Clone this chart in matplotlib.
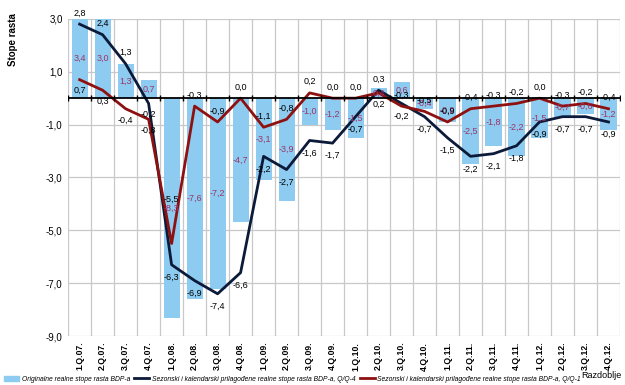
import numpy as np
import matplotlib.pyplot as plt
from matplotlib.patches import Patch
from matplotlib.lines import Line2D

plt.rcParams['font.family'] = ['Liberation Sans', 'DejaVu Sans']

quarters = ['1.Q.07.', '2.Q.07.', '3.Q.07.', '4.Q.07.',
            '1.Q.08.', '2.Q.08.', '3.Q.08.', '4.Q.08.',
            '1.Q.09.', '2.Q.09.', '3.Q.09.', '4.Q.09.',
            '1.Q.10.', '2.Q.10.', '3.Q.10.', '4.Q.10.',
            '1.Q.11.', '2.Q.11.', '3.Q.11.', '4.Q.11.',
            '1.Q.12.', '2.Q.12.', '3.Q.12.', '4.Q.12.']

# originalne realne stope rasta BDP-a
original = [3.4, 3.0, 1.3, 0.7, -8.3, -7.6, -7.2, -4.7, -3.1, -3.9, -1.0, -1.2,
            -1.5, 0.4, 0.6, -0.4, -0.9, -2.5, -1.8, -2.2, -1.5, -0.7, -0.6, -1.2]
# sezonski prilagodene, Q/Q-4
yoy = [2.8, 2.4, 1.3, -0.2, -6.3, -6.9, -7.4, -6.6, -2.2, -2.7, -1.6, -1.7,
       -0.7, 0.3, -0.2, -0.7, -1.5, -2.2, -2.1, -1.8, -0.9, -0.7, -0.7, -0.9]
# sezonski prilagodene, Q/Q-1
qoq = [0.7, 0.3, -0.4, -0.8, -5.5, -0.3, -0.9, 0.0, -1.1, -0.8, 0.2, 0.0,
       0.0, 0.2, -0.3, -0.5, -0.9, -0.4, -0.3, -0.2, 0.0, -0.3, -0.2, -0.4]

# label offset in points: + above the point, - below
yoy_off = [8, 8, 8, -8] + [-9] * 9 + [8] + [-9] * 10
qoq_off = [-8, -8, -8, -8, 32] + [8] * 8 + [-8] + [8] * 10

blue = '#8ecbf0'
navy = '#0c1a3a'
dred = '#8e1111'
purple = '#9b3468'

def fmt(v):
    return f'{v:.1f}'.replace('.', ',')

fig = plt.figure(figsize=(6.25, 3.85), dpi=100)
ax = fig.add_axes([0.109, 0.127, 0.883, 0.824])

x = np.arange(len(quarters))
ax.bar(x, original, width=0.7, color=blue, zorder=2)
ax.plot(x, yoy, color=navy, lw=2, zorder=3)
ax.plot(x, qoq, color=dred, lw=2, zorder=4)

ax.set_xlim(-0.5, len(quarters) - 0.5)
ax.set_ylim(-9, 3)
yt = [3, 1, -1, -3, -5, -7, -9]
ax.set_yticks(yt)
ax.set_yticklabels([fmt(v) for v in yt], fontsize=7)
ax.set_xticks(x)
ax.set_xticklabels(quarters, rotation=90, fontsize=6.2, fontweight='bold')
ax.tick_params(length=0, pad=4)

for v in yt:
    ax.axhline(v, color='#c8c8c8', lw=0.9, zorder=0)
for b in np.arange(-0.5, len(quarters) + 0.5, 1):
    ax.axvline(b, color='#c8c8c8', lw=0.9, zorder=0)
ax.axhline(0, color='black', lw=1.3, zorder=5)
ax.plot(np.arange(-0.5, len(quarters), 1), np.zeros(len(quarters) + 1), '|',
        color='black', ms=4, zorder=5)
for s in ax.spines.values():
    s.set_visible(False)

for i, v in enumerate(original):
    yc = max(min(v, 3.0), -9) / 2
    ax.text(i, yc, fmt(v), ha='center', va='center', fontsize=6.5,
            color=purple, zorder=6)
for i, v in enumerate(yoy):
    ax.annotate(fmt(v), (i, v), xytext=(0, yoy_off[i]),
                textcoords='offset points', ha='center', va='center',
                fontsize=6.5, color='black', zorder=7)
for i, v in enumerate(qoq):
    ax.annotate(fmt(v), (i, v), xytext=(0, qoq_off[i]),
                textcoords='offset points', ha='center', va='center',
                fontsize=6.5, color='black', zorder=7)

fig.text(0.012, 0.965, 'Stope rasta', rotation=90, ha='left', va='top',
         fontsize=7, fontweight='bold')
fig.text(0.995, 0.012, 'Razdoblje', ha='right', va='bottom', fontsize=6.5)

handles = [Patch(color=blue),
           Line2D([], [], color=navy, lw=2),
           Line2D([], [], color=dred, lw=2)]
labels = ['Originalne realne stope rasta BDP-a',
          'Sezonski i kalendarski prilagođene realne stope rasta BDP-a, Q/Q-4',
          'Sezonski i kalendarski prilagođene realne stope rasta BDP-a, Q/Q-1']
fig.legend(handles, labels, loc='lower left', bbox_to_anchor=(0.0, -0.005),
           ncol=3, frameon=False, prop={'size': 4.9, 'style': 'italic'},
           handlelength=2.2, handletextpad=0.4, columnspacing=0.6,
           borderaxespad=0.2)

fig.savefig('out.png', dpi=100)
